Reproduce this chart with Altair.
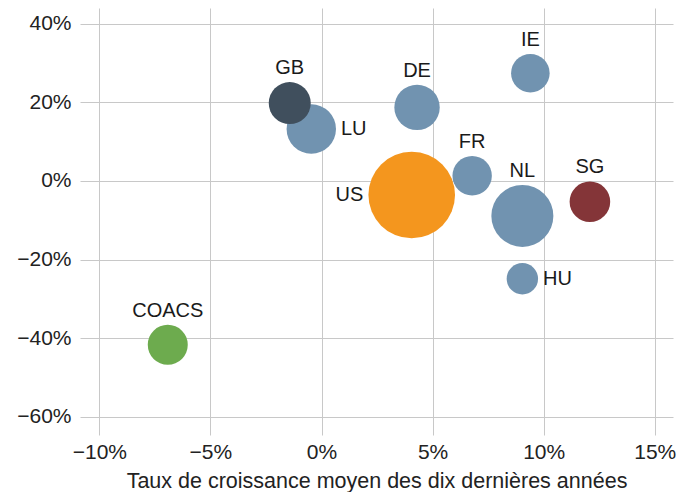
import altair as alt
import pandas as pd

pays = ["COACS", "LU", "GB", "DE", "US", "FR", "IE", "NL", "HU", "SG"]
croissance = [-6.92, -0.46, -1.43, 4.30, 4.06, 6.78, 9.40, 9.04, 9.04, 12.08]
variation = [-41.7, 13.2, 19.8, 18.7, -3.6, 1.3, 27.4, -8.9, -24.9, -5.3]
taille = [40.0, 61.0, 44.1, 51.5, 187.5, 38.8, 37.2, 96.1, 24.6, 41.2]
groupe = ["coacs", "autre", "gb", "autre", "us", "autre", "autre", "autre", "autre", "sg"]
position = ["haut", "droite", "haut", "haut", "gauche", "haut", "haut", "haut", "droite", "haut"]

groupes = ["autre", "gb", "us", "sg", "coacs"]
couleurs = ["#7193B0", "#404F5D", "#F4961E", "#843538", "#6DAB4E"]

x_ticks = [-10, -5, 0, 5, 10, 15]
y_ticks = [-60, -40, -20, 0, 20, 40]

X_DOM = [-10.87, 15.82]
Y_DOM = [-64.66, 44.0]
W, H = 593, 427
SIZE_DOM = [0, 200]
SIZE_RANGE = [0, 8000]  # symbol size = (diameter)^2

df = pd.DataFrame({
    "pays": pays, "x": croissance, "y": variation, "taille": taille,
    "groupe": groupe, "position": position,
})

FONT = "Liberation Sans"
label_expr = "(datum.value < 0 ? '\u2212' : '') + abs(datum.value) + '%'"

x_enc = alt.X("x:Q", scale=alt.Scale(domain=X_DOM, nice=False, zero=False),
              axis=alt.Axis(values=x_ticks, labelExpr=label_expr,
                            title="Taux de croissance moyen des dix dernières années"))
y_enc = alt.Y("y:Q", scale=alt.Scale(domain=Y_DOM, nice=False, zero=False),
              axis=alt.Axis(values=y_ticks, labelExpr=label_expr, title=None))

base = alt.Chart(df)

bulles = base.mark_circle(opacity=1).encode(
    x=x_enc, y=y_enc,
    size=alt.Size("taille:Q", scale=alt.Scale(domain=SIZE_DOM, range=SIZE_RANGE), legend=None),
    color=alt.Color("groupe:N", scale=alt.Scale(domain=groupes, range=couleurs), legend=None),
)

px_x = (X_DOM[1] - X_DOM[0]) / W
px_y = (Y_DOM[1] - Y_DOM[0]) / H
k = SIZE_RANGE[1] / SIZE_DOM[1]

calc = base.transform_calculate(r=f"sqrt(datum.taille * {k}) / 2")

lx = alt.X("lx:Q", scale=alt.Scale(domain=X_DOM, nice=False, zero=False))
ly = alt.Y("ly:Q", scale=alt.Scale(domain=Y_DOM, nice=False, zero=False))

text_style = dict(font=FONT, fontSize=20, color="#1a1a1a", baseline="middle")

haut = calc.transform_filter("datum.position == 'haut'").transform_calculate(
    lx="datum.x", ly=f"datum.y + (datum.r + 14) * {px_y}"
).mark_text(align="center", **text_style).encode(x=lx, y=ly, text="pays:N")

droite = calc.transform_filter("datum.position == 'droite'").transform_calculate(
    lx=f"datum.x + (datum.r + 5) * {px_x}", ly="datum.y"
).mark_text(align="left", **text_style).encode(x=lx, y=ly, text="pays:N")

gauche = calc.transform_filter("datum.position == 'gauche'").transform_calculate(
    lx=f"datum.x - (datum.r + 5) * {px_x}", ly="datum.y"
).mark_text(align="right", **text_style).encode(x=lx, y=ly, text="pays:N")

chart = alt.layer(bulles, haut, droite, gauche).properties(
    width=W, height=H,
    autosize=alt.AutoSizeParams(type="none"),
    padding={"left": 72, "top": 0, "right": 13, "bottom": 57},
).configure_view(stroke=None).configure_axis(
    grid=True, gridColor="#c8c8c8", gridWidth=1, domain=False, ticks=False,
    labelFont=FONT, labelFontSize=21, labelColor="#222222",
    titleFont=FONT, titleFontSize=21.5, titleFontWeight="normal", titleColor="#222222",
).configure_axisX(labelPadding=6, titlePadding=8).configure_axisY(labelPadding=9)

chart.save("out.html", embed_options={"renderer": "svg", "actions": False})
